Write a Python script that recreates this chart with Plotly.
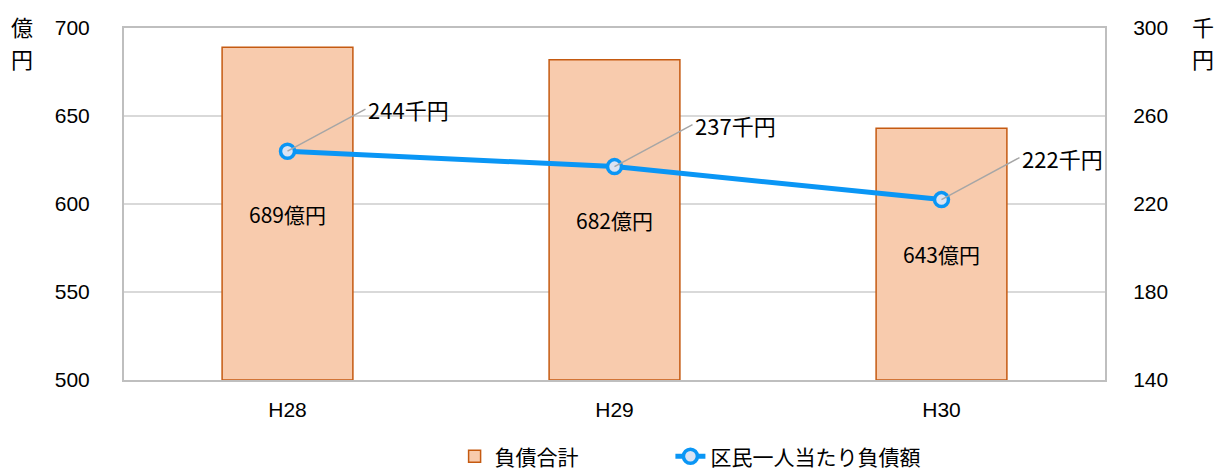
import plotly.graph_objects as go

categories = ["H28", "H29", "H30"]
debt_total = [689, 682, 643]          # 億円
debt_per_person = [244, 237, 222]     # 千円
bar_labels = ["689億円", "682億円", "643億円"]
line_labels = ["244千円", "237千円", "222千円"]

Y_MIN, Y_MAX = 500, 700
Y2_MIN, Y2_MAX = 140, 300

FONT = "Noto Sans CJK JP"
NUMFONT = "Liberation Sans, Noto Sans CJK JP"

fig = go.Figure()
fig.add_trace(go.Bar(
    x=categories, y=[v - Y_MIN for v in debt_total], base=Y_MIN, name="負債合計",
    marker=dict(color="#f8cbad", line=dict(color="#c55a11", width=1.5)),
    width=0.4,
    text=bar_labels, textposition="inside", insidetextanchor="middle",
    textfont=dict(size=21, color="black", family=FONT),
    hoverinfo="skip", legend="legend",
))
fig.add_trace(go.Scatter(
    x=categories, y=debt_per_person, name="区民一人当たり負債額", yaxis="y2",
    mode="lines+markers",
    line=dict(color="#0a96f5", width=5),
    marker=dict(size=14, color="#dae3f3", line=dict(color="#0a96f5", width=3.5)),
    legend="legend2",
))

for c, v, t in zip(categories, debt_per_person, line_labels):
    fig.add_annotation(
        x=c, y=v, xref="x", yref="y2", text=t,
        showarrow=True, arrowhead=0, arrowwidth=1.5, arrowcolor="#a6a6a6",
        ax=78, ay=-42, xanchor="left", yanchor="middle",
        font=dict(size=22, color="black", family=FONT),
    )

for ch, ys in (("億", 2), ("円", -30)):
    fig.add_annotation(x=0, y=1.0, xref="paper", yref="paper", xshift=-102,
                       text=ch, showarrow=False, xanchor="center", yanchor="middle",
                       yshift=ys, font=dict(size=22, color="black", family=FONT))
for ch, ys in (("千", 2), ("円", -30)):
    fig.add_annotation(x=1, y=1.0, xref="paper", yref="paper", xshift=98,
                       text=ch, showarrow=False, xanchor="center", yanchor="middle",
                       yshift=ys, font=dict(size=22, color="black", family=FONT))

legend_common = dict(orientation="h", xanchor="left", yref="container",
                     y=0.072, yanchor="top", font=dict(size=21),
                     bgcolor="rgba(0,0,0,0)")

fig.update_layout(
    width=1219, height=470,
    margin=dict(l=124, r=114, t=28, b=90),
    paper_bgcolor="white", plot_bgcolor="white",
    font=dict(family=FONT, size=21, color="black"),
    xaxis=dict(showline=True, linecolor="#bfbfbf", linewidth=2, mirror=True,
               ticks="", tickfont=dict(size=21, family=NUMFONT), ticklabelstandoff=10,
               automargin=False),
    yaxis=dict(range=[Y_MIN, Y_MAX], dtick=50, showgrid=True, gridcolor="#d9d9d9",
               gridwidth=1.5, showline=True, linecolor="#bfbfbf", linewidth=2,
               ticks="", ticklabelstandoff=28, zeroline=False, automargin=False,
               tickfont=dict(size=21, family=NUMFONT)),
    yaxis2=dict(range=[Y2_MIN, Y2_MAX], tick0=Y2_MIN, dtick=40, overlaying="y", side="right",
                showgrid=False, showline=True, linecolor="#bfbfbf", linewidth=2,
                ticks="", ticklabelstandoff=22, zeroline=False, automargin=False,
                tickfont=dict(size=21, family=NUMFONT)),
    legend=dict(x=0.337, **legend_common),
    legend2=dict(x=0.557, **legend_common),
    showlegend=True,
)

fig.write_html("out.html")
